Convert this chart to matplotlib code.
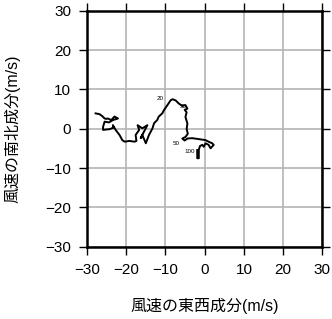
import matplotlib
matplotlib.use('Agg')
import matplotlib.pyplot as plt

# hodograph of wind (east-west, north-south components, m/s)
u = [-27.8, -26.8, -26.1, -25.5, -25.1, -24.7, -23.8, -23.0, -22.1, -23.4,
     -24.4, -25.5, -25.9, -25.9, -24.2, -23.2, -23.4, -22.7, -21.7, -21.0,
     -20.4, -19.2, -17.9, -17.4, -17.6, -16.7, -17.1, -15.9, -14.6, -15.5,
     -16.3, -15.9, -15.0, -14.2, -13.3, -12.9, -12.1, -11.7, -10.8, -10.4,
     -9.5, -8.7, -8.2, -7.4, -6.6, -5.7, -4.9, -4.4, -5.1, -4.6,
     -4.9, -4.4, -4.6, -4.3, -4.9, -5.7, -5.1, -4.4, -3.2, -1.1,
     0.2, 1.0, 1.9, 2.3, 1.5, 1.0, 0.2, -0.2, -0.6, -1.2,
     -1.5, -1.5, -1.9, -1.9]
v = [3.9, 3.7, 3.2, 2.6, 2.5, 2.6, 2.2, 3.1, 2.6, 2.2,
     1.6, 1.8, 0.5, -0.3, -0.1, 0.3, 0.9, -0.3, -1.6, -2.9,
     -3.3, -3.1, -3.3, -3.1, -1.6, -0.3, 0.9, 0.1, 0.9, -0.8,
     -2.4, -1.6, -3.7, -1.6, 0.1, 1.4, 2.2, 3.1, 3.9, 4.7,
     6.0, 7.2, 7.5, 7.2, 6.4, 5.8, 6.0, 5.1, 4.8, 4.2,
     3.0, 1.3, 0.0, -1.3, -2.1, -2.5, -3.0, -2.5, -2.4, -2.7,
     -2.9, -3.3, -3.7, -4.1, -5.0, -4.1, -3.7, -4.6, -4.1, -4.4,
     -5.4, -7.5, -7.5, -5.4]

# time marks along the path
mark_text = ['20', '30', '50', '100']
mark_u = [-11.4, -5.5, -7.3, -3.7]
mark_v = [7.7, 5.6, -3.7, -5.8]

ticks = [-30, -20, -10, 0, 10, 20, 30]
tick_labels = ['\u221230', '\u221220', '\u221210', '0', '10', '20', '30']

fig = plt.figure(figsize=(3.32, 3.19), dpi=100)
ax = fig.add_axes([0.262, 0.2266, 0.709, 0.7398])

ax.set_xlim(-30, 30)
ax.set_ylim(-30, 30)
ax.set_xticks(ticks)
ax.set_yticks(ticks)
ax.set_xticklabels(tick_labels, fontfamily='Liberation Sans', fontsize=11)
ax.set_yticklabels(tick_labels, fontfamily='Liberation Sans', fontsize=11)
ax.grid(True, color='#b4b4b4', lw=1.2)
ax.set_axisbelow(True)
ax.tick_params(direction='out', length=6, width=1, pad=5.5,
               top=True, right=True, labeltop=False, labelright=False)
for s in ax.spines.values():
    s.set_linewidth(1.8)

ax.plot(u, v, color='black', lw=1.4)
for t, x, y in zip(mark_text, mark_u, mark_v):
    ax.text(x, y, t, fontsize=4.5, ha='center', va='center',
            fontfamily='Liberation Sans')

lab_font = ['Liberation Sans', 'Noto Sans CJK JP', 'DejaVu Sans']
ax.set_xlabel('風速の東西成分(m/s)', fontsize=11.5, va='center',
              fontfamily=lab_font)
ax.set_ylabel('風速の南北成分(m/s)', fontsize=11.5, va='center',
              fontfamily=lab_font)
ax.xaxis.set_label_coords(0.5, -0.251)
ax.yaxis.set_label_coords(-0.318, 0.5)

fig.savefig('out.png', dpi=100)
